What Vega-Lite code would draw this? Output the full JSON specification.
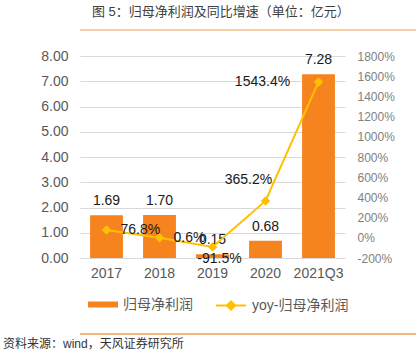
{
  "$schema": "https://vega.github.io/schema/vega-lite/v6.json",
  "padding": {"left": 0, "top": 6, "right": 0, "bottom": 0},
  "spacing": 18,
  "resolve": {"scale": {"x": "independent", "y": "independent", "fill": "independent", "stroke": "independent"}},
  "config": {
    "font": "Liberation Sans, Noto Sans CJK SC, sans-serif",
    "view": {"stroke": null},
    "axis": {"labelFont": "Liberation Sans, Noto Sans CJK SC, sans-serif"},
    "legend": {"labelFont": "Liberation Sans, Noto Sans CJK SC, sans-serif"}
  },
  "title": {
    "text": "资料来源：wind，天风证券研究所",
    "orient": "bottom",
    "anchor": "start",
    "fontSize": 12,
    "fontWeight": "normal",
    "color": "#333333",
    "offset": 4,
    "dx": 3
  },
  "vconcat": [
    {
      "width": 396,
      "height": 3,
      "title": {
        "text": "图 5：归母净利润及同比增速（单位：亿元）",
        "anchor": "start",
        "fontSize": 13,
        "fontWeight": "normal",
        "color": "#404040",
        "offset": 8,
        "dx": 32
      },
      "data": {"values": [{"h": 0}]},
      "mark": {"type": "rule", "color": "#F0A050", "strokeWidth": 1.2},
      "encoding": {
        "y": {
          "field": "h",
          "type": "quantitative",
          "scale": {"domain": [0, 1]},
          "axis": {"labels": false, "ticks": false, "domain": false, "grid": false, "title": null, "minExtent": 20, "maxExtent": 20}
        }
      }
    },
    {
      "width": 265,
      "height": 202,
      "data": {
        "values": [
          {"year": "2017", "profit": 1.69, "yoy": 76.8, "yoyText": "76.8%"},
          {"year": "2018", "profit": 1.70, "yoy": 0.6, "yoyText": "0.6%"},
          {"year": "2019", "profit": 0.15, "yoy": -91.5, "yoyText": "-91.5%"},
          {"year": "2020", "profit": 0.68, "yoy": 365.2, "yoyText": "365.2%"},
          {"year": "2021Q3", "profit": 7.28, "yoy": 1543.4, "yoyText": "1543.4%"}
        ]
      },
      "encoding": {
        "x": {
          "field": "year",
          "type": "nominal",
          "sort": null,
          "scale": {"paddingInner": 0.38, "paddingOuter": 0.19},
          "axis": {"title": null, "labelAngle": 0, "ticks": false, "domain": false, "labelPadding": 8, "labelFontSize": 14, "labelColor": "#595959"}
        }
      },
      "layer": [
        {
          "encoding": {
            "y": {
              "field": "profit",
              "type": "quantitative",
              "scale": {"domain": [0, 8]},
              "axis": {"title": null, "values": [0, 1, 2, 3, 4, 5, 6, 7, 8], "format": ".2f", "ticks": false, "domain": false, "labelPadding": 12, "gridColor": "#D9D9D9", "labelFontSize": 14, "labelColor": "#595959", "minExtent": 80, "maxExtent": 80}
            }
          },
          "layer": [
            {
              "mark": {"type": "bar"},
              "encoding": {
                "fill": {
                  "datum": "归母净利润",
                  "type": "nominal",
                  "scale": {"range": ["#F5841F"]},
                  "legend": {"orient": "none", "legendX": 15.5, "legendY": 241, "title": null, "symbolType": "M-2,-0.4H2V0.4H-2Z", "symbolSize": 225, "symbolStrokeWidth": 0, "labelFontSize": 14, "labelColor": "#595959", "labelOffset": 12.5}
                }
              }
            },
            {
              "mark": {"type": "text", "dy": -14, "fontSize": 14, "color": "#1A1A1A"},
              "encoding": {"text": {"field": "profit", "type": "quantitative", "format": ".2f"}}
            }
          ]
        },
        {
          "encoding": {
            "y": {
              "field": "yoy",
              "type": "quantitative",
              "scale": {"domain": [-200, 1800]},
              "axis": {"orient": "right", "title": null, "values": [-200, 0, 200, 400, 600, 800, 1000, 1200, 1400, 1600, 1800], "labelExpr": "datum.value + '%'", "ticks": false, "domain": false, "grid": false, "labelPadding": 12, "labelFontSize": 12, "labelColor": "#7F7F7F"}
            }
          },
          "layer": [
            {
              "mark": {"type": "line", "strokeWidth": 2},
              "encoding": {
                "stroke": {
                  "datum": "yoy-归母净利润",
                  "type": "nominal",
                  "scale": {"range": ["#FFC000"]},
                  "legend": {"orient": "none", "legendX": 142.5, "legendY": 241, "title": null, "symbolType": "M-2,0H2M0,-0.55L0.55,0L0,0.55L-0.55,0Z", "symbolSize": 225, "symbolStrokeWidth": 2, "symbolFillColor": "#FFC000", "labelFontSize": 14, "labelColor": "#595959", "labelOffset": 12.5}
                }
              }
            },
            {
              "mark": {"type": "point", "shape": "diamond", "filled": true, "size": 90, "color": "#FFC000", "opacity": 1}
            },
            {
              "transform": [{"filter": "datum.year == '2017' || datum.year == '2018'"}],
              "mark": {"type": "text", "align": "left", "dx": 14, "fontSize": 14, "color": "#1A1A1A"},
              "encoding": {"text": {"field": "yoyText", "type": "nominal"}}
            },
            {
              "transform": [{"filter": "datum.year == '2019'"}],
              "mark": {"type": "text", "dx": 7, "dy": 12, "fontSize": 14, "color": "#1A1A1A"},
              "encoding": {"text": {"field": "yoyText", "type": "nominal"}}
            },
            {
              "transform": [{"filter": "datum.year == '2020'"}],
              "mark": {"type": "text", "dx": -17, "dy": -21, "fontSize": 14, "color": "#1A1A1A"},
              "encoding": {"text": {"field": "yoyText", "type": "nominal"}}
            },
            {
              "transform": [{"filter": "datum.year == '2021Q3'"}],
              "mark": {"type": "text", "dx": -56, "fontSize": 14, "color": "#1A1A1A"},
              "encoding": {"text": {"field": "yoyText", "type": "nominal"}}
            }
          ]
        }
      ],
      "resolve": {"scale": {"y": "independent"}}
    },
    {
      "width": 413,
      "height": 2,
      "data": {"values": [{"f": 0}]},
      "mark": {"type": "rule", "color": "#F0A050", "strokeWidth": 1.5},
      "encoding": {
        "y": {"field": "f", "type": "quantitative", "scale": {"domain": [0, 1]}, "axis": null}
      }
    }
  ]
}
